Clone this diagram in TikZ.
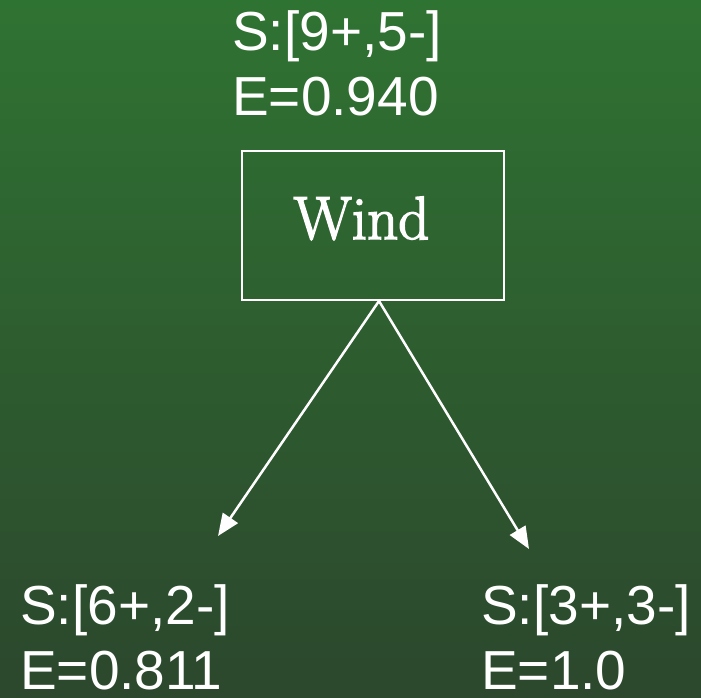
\documentclass[tikz,border=0pt]{standalone}
\usepackage{fontspec}
\newfontfamily\labelfont{Liberation Sans}
\newfontfamily\attrfont[FakeBold=2.5]{Latin Modern Roman}
\usetikzlibrary{arrows.meta}
\definecolor{bgtop}{RGB}{47,115,50}
\definecolor{bgbottom}{RGB}{44,71,45}
\tikzset{
  stat/.style={anchor=base west, inner sep=0pt, text=white,
    font=\labelfont\fontsize{55}{65}\selectfont},
  attrbox/.style={draw=white, line width=2.5pt, minimum width=262pt,
    minimum height=149pt, inner sep=0pt},
  branch/.style={draw=white, line width=2.5pt,
    -{Triangle[length=22pt,width=18pt]}}
}
\begin{document}
\begin{tikzpicture}[x=1pt,y=-1pt]
  % background
  \shade[top color=bgtop, bottom color=bgbottom] (0,0) rectangle (701,697);
  \useasboundingbox (0,0) rectangle (701,697);

  % root statistics
  \node[stat] (rootS) at (232,50) {S:[9+,5-]};
  \node[stat] (rootE) at (232,115) {E=0.940};

  % split attribute
  \node[attrbox] (wind) at (373,225.5) {};
  \node[anchor=base, inner sep=0pt, text=white,
    font=\attrfont\fontsize{61}{64}\selectfont] (windlabel) at (361.5,239) {Wind};

  % children statistics
  \node[stat] (leftS) at (20,624) {S:[6+,2-]};
  \node[stat] (leftE) at (20,689) {E=0.811};
  \node[stat] (rightS) at (481,624) {S:[3+,3-]};
  \node[stat] (rightE) at (481,689) {E=1.0};

  % branches
  \coordinate (split) at (379,301);
  \coordinate (lefttip) at (218,536);
  \coordinate (righttip) at (529,549);
  \draw[branch] (split) -- (lefttip);
  \draw[branch] (split) -- (righttip);
\end{tikzpicture}
\end{document}
